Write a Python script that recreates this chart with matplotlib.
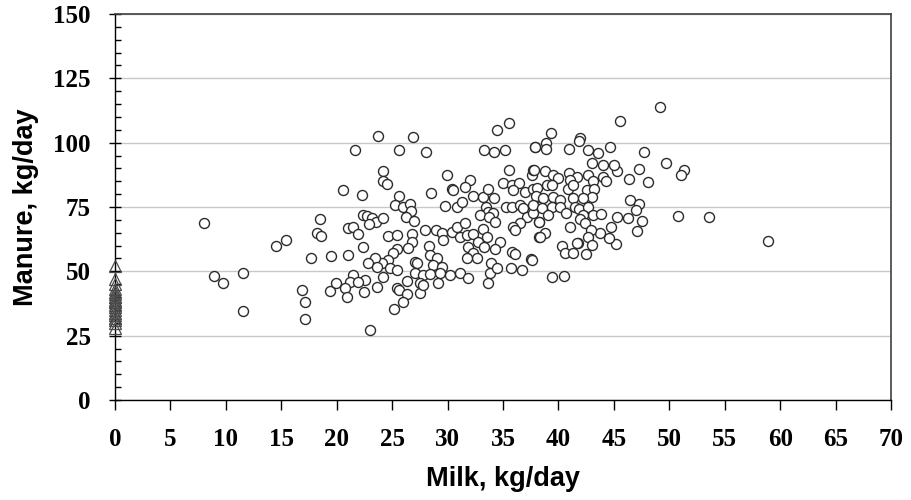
import matplotlib.pyplot as plt
from matplotlib.ticker import MultipleLocator

# cows with milk production (circles)
milk = [
    8.0, 8.96, 9.76, 11.56, 11.56, 14.5, 15.4, 16.9, 17.1, 17.1, 17.7, 18.2, 18.5, 18.6, 19.5, 19.4, 19.9,
    23.70, 26.88, 21.65, 25.59, 28.06, 33.29, 34.16, 35.18, 34.43, 35.55, 37.86, 35.52, 24.21, 24.21, 24.51,
    29.98, 32.03, 31.58, 28.48, 20.54, 22.28, 25.59, 25.26, 26.01, 26.58, 26.70, 26.28, 26.98, 30.37, 30.52,
    29.77, 30.82, 31.28, 32.27, 33.17, 33.68, 34.19, 35.03, 35.85, 36.45, 35.94, 36.99, 37.74, 37.59, 37.74,
    38.04, 35.28, 35.79, 36.54, 36.78, 37.20, 36.54, 35.94, 36.09, 37.74, 38.22, 38.25, 33.44, 33.68, 34.13,
    32.93, 33.71, 34.28, 33.23, 33.53, 34.73, 34.31, 35.85, 36.09, 37.53, 36.69, 35.73, 33.92, 33.83, 33.62,
    34.43, 22.40, 22.71, 23.16, 23.55, 24.15, 22.95, 21.05, 21.50, 21.95, 22.40, 21.02, 24.66, 25.41, 26.77,
    26.77, 27.97, 28.96, 29.53, 29.62, 30.37, 30.82, 31.58, 31.13, 31.73, 32.33, 32.78, 31.88, 32.33, 32.63,
    31.73, 33.29, 28.36, 28.42, 29.02, 28.72, 29.47, 27.07, 27.28, 26.46, 25.41, 25.11, 24.66, 24.06, 23.46,
    22.86, 23.61, 24.15, 24.81, 25.41, 27.07, 27.82, 28.42, 29.32, 30.22, 31.13, 31.88, 27.52, 26.31, 25.41,
    25.65, 26.31, 27.52, 27.82, 29.17, 25.95, 25.17, 23.04, 21.50, 21.20, 20.75, 20.90, 22.46, 23.61, 22.56,
    21.95,
    49.16, 45.55, 39.29, 38.87, 37.88, 38.87, 41.94, 41.85, 40.98, 42.69, 43.53, 44.68, 47.68, 49.70, 51.35,
    51.02, 47.26, 48.10, 46.39, 45.25, 45.04, 43.99, 43.02, 37.79, 38.78, 39.53, 39.99, 40.98, 41.64, 41.04,
    42.69, 43.14, 44.05, 44.29, 38.93, 39.38, 38.03, 40.83, 41.28, 42.54, 43.20, 42.99, 37.97, 38.63, 39.47,
    40.14, 41.34, 42.24, 46.45, 47.29, 46.99, 45.25, 46.24, 47.50, 47.11, 45.19, 44.59, 44.71, 43.75, 50.75,
    53.55, 37.73, 38.48, 39.38, 40.14, 40.68, 41.49, 41.88, 42.69, 43.14, 43.80, 42.24, 39.08, 38.27, 41.04,
    41.94, 42.39, 42.90, 42.69, 38.78, 38.33, 40.29, 40.59, 41.34, 41.79, 42.48, 42.99, 41.64, 37.61, 39.44,
    40.53, 58.9,
]
manure = [
    68.7, 48.1, 45.3, 49.4, 34.6, 59.9, 62.2, 42.9, 37.9, 31.4, 55.3, 65.0, 70.5, 63.6, 55.8, 42.5, 45.4,
    102.7, 102.3, 97.2, 97.2, 96.4, 97.2, 96.4, 97.2, 104.9, 107.8, 98.2, 89.4, 89.0, 85.1, 83.8,
    87.6, 85.4, 82.9, 80.3, 81.6, 79.8, 79.3, 75.8, 74.9, 76.2, 73.6, 71.0, 69.7, 82.0, 81.6,
    75.4, 75.1, 77.1, 79.3, 79.0, 81.9, 78.5, 84.5, 83.6, 84.2, 81.6, 81.0, 81.9, 87.4, 89.4,
    79.0, 74.9, 75.1, 75.8, 74.5, 71.2, 68.7, 67.4, 66.1, 72.8, 69.3, 63.5, 75.1, 73.2, 72.6,
    71.9, 71.3, 69.3, 66.3, 63.5, 61.5, 58.7, 57.6, 56.7, 54.7, 50.5, 51.2, 53.4, 49.5, 45.3,
    51.2, 71.9, 71.5, 70.6, 69.3, 70.9, 68.4, 66.7, 67.4, 64.5, 59.6, 56.5, 63.9, 64.1, 64.5,
    61.5, 66.1, 66.1, 65.0, 62.2, 65.4, 67.4, 68.7, 63.5, 64.1, 64.5, 61.5, 59.6, 57.0, 55.1,
    55.1, 59.6, 59.9, 56.3, 55.1, 52.5, 51.8, 53.8, 53.4, 59.2, 58.6, 57.0, 54.4, 53.1, 55.1,
    53.1, 51.8, 47.9, 51.2, 50.5, 49.2, 48.6, 49.0, 49.2, 48.6, 49.2, 47.3, 45.3, 46.4, 43.4,
    42.7, 41.2, 41.5, 44.7, 45.3, 38.2, 35.4, 27.2, 48.6, 46.0, 43.4, 40.2, 42.1, 44.1, 46.6,
    46.0,
    113.7, 108.6, 103.6, 100.0, 98.2, 97.4, 101.9, 100.7, 97.5, 97.2, 95.9, 98.5, 96.3, 92.2, 89.4,
    87.5, 89.8, 84.9, 85.8, 89.1, 91.3, 91.3, 92.2, 89.4, 89.0, 87.5, 86.1, 88.4, 86.5, 85.5,
    87.4, 85.2, 86.5, 85.2, 83.6, 83.6, 82.3, 81.9, 83.6, 81.6, 81.9, 79.0, 79.3, 78.4, 78.8,
    77.7, 78.4, 78.4, 77.7, 76.2, 73.8, 71.3, 70.6, 69.7, 65.7, 60.6, 62.8, 67.1, 65.0, 71.5,
    71.0, 75.8, 74.5, 75.1, 75.1, 72.8, 74.9, 74.1, 75.1, 71.9, 72.3, 71.9, 71.9, 69.3, 67.1,
    70.2, 68.7, 66.1, 63.5, 65.0, 63.2, 59.9, 57.0, 57.3, 61.1, 56.7, 60.2, 60.9, 54.4, 47.7,
    48.2, 61.8,
]

# dry cows (no milk), drawn as triangles at x = 0
dry_manure = [52, 47, 45, 43, 42, 41, 40, 40, 39, 38, 38, 37, 36, 35, 34, 33, 32, 31, 30, 28]
dry_milk = [0] * len(dry_manure)

fig = plt.figure(figsize=(9.12, 5.0), dpi=100)
ax = fig.add_axes([0.126, 0.2, 0.851, 0.772])

ax.plot(milk, manure, linestyle='none', marker='o', ms=7.2, mfc='white',
        mec='#2b2b2b', mew=1.0, zorder=3)
ax.plot(dry_milk, dry_manure, linestyle='none', marker='^', ms=8.5, mfc='none',
        mec='#4a4a4a', mew=0.9, zorder=4, clip_on=False)

ax.set_xlim(0, 70)
ax.set_ylim(0, 150)
ax.xaxis.set_major_locator(MultipleLocator(5))
ax.yaxis.set_major_locator(MultipleLocator(25))
ax.yaxis.set_minor_locator(MultipleLocator(5))

ax.yaxis.grid(True, which='major', color='#c8c8c8', linewidth=1.0)
ax.set_axisbelow(True)

for side in ['left', 'bottom']:
    ax.spines[side].set_color('black')
    ax.spines[side].set_linewidth(1.0)
for side in ['top', 'right']:
    ax.spines[side].set_color('#404040')
    ax.spines[side].set_linewidth(1.2)

ax.tick_params(axis='x', which='major', direction='out', length=7, width=1,
               pad=13, top=False)
ax.tick_params(axis='y', which='major', direction='inout', length=9, width=1,
               pad=13, right=False)
ax.tick_params(axis='y', which='minor', direction='in', length=4, width=1, right=False)

for lab in ax.get_xticklabels() + ax.get_yticklabels():
    lab.set_fontfamily('Liberation Serif')
    lab.set_fontweight('bold')
    lab.set_fontsize(18)

ax.set_xlabel('Milk, kg/day', fontfamily='Liberation Sans', fontweight='bold',
              fontsize=19.5, labelpad=11)
ax.set_ylabel('Manure, kg/day', fontfamily='Liberation Sans', fontweight='bold',
              fontsize=19.5, labelpad=10)

fig.savefig('out.png', dpi=100)
